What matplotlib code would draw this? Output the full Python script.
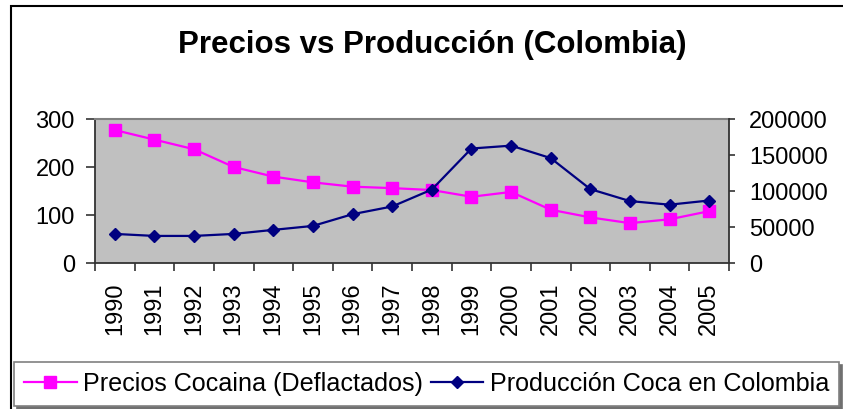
import numpy as np
import matplotlib
matplotlib.use("Agg")
import matplotlib.pyplot as plt
from matplotlib.patches import Rectangle

plt.rcParams['font.family'] = ['Liberation Sans', 'DejaVu Sans']

# datos
anios = ['1990', '1991', '1992', '1993', '1994', '1995', '1996', '1997',
         '1998', '1999', '2000', '2001', '2002', '2003', '2004', '2005']
precios = [277, 257, 237, 200, 180, 168, 159, 156,
           152, 138, 148, 111, 95, 83, 91, 108]
produccion = [40400, 37600, 37600, 40400, 46000, 51500, 67800, 78500,
              102000, 159000, 163000, 145700, 102600, 86000, 81000, 86800]

W, H = 843, 409
fig = plt.figure(figsize=(W / 100, H / 100), dpi=100)

# marco exterior del grafico (se corta a la derecha y abajo)
fig.patches.append(Rectangle((11 / W, -0.1), 1.2, 1 - 6 / H + 0.1,
                             transform=fig.transFigure, fill=False,
                             edgecolor='black', linewidth=1.5))

ax = fig.add_axes([95 / W, 1 - 263 / H, (729 - 95) / W, (263 - 119) / H])
ax.set_facecolor('#C0C0C0')
x = np.arange(len(anios))

ax.plot(x, precios, color='#FF00FF', linewidth=1.6, marker='s',
        markersize=8, markeredgecolor='#FF00FF',
        label='Precios Cocaina (Deflactados)')
ax.set_ylim(0, 300)
ax.set_yticks([0, 100, 200, 300])
ax.set_xlim(-0.5, len(anios) - 0.5)

# ticks en los limites de categoria, etiquetas en el centro
ax.set_xticks(np.arange(-0.5, len(anios), 1.0))
ax.set_xticklabels([])
ax.set_xticks(x, minor=True)
ax.set_xticklabels(anios, minor=True, rotation=90, fontsize=17)
ax.tick_params(axis='x', which='major', direction='out', length=6, width=1.2, color='#333333')
ax.tick_params(axis='x', which='minor', length=0, pad=14)
ax.tick_params(axis='y', direction='out', length=6.5, width=1.2, color='#333333',
               labelsize=17, pad=8)

ax.spines['top'].set_color('#808080')
ax.spines['top'].set_linewidth(1.5)
ax.spines['right'].set_visible(False)
ax.spines['left'].set_color('#333333')
ax.spines['left'].set_linewidth(1.3)
ax.spines['bottom'].set_color('#333333')
ax.spines['bottom'].set_linewidth(1.3)

ax2 = ax.twinx()
ax2.plot(x, produccion, color='#000080', linewidth=1.6, marker='D',
         markersize=6.5, markeredgecolor='#000080',
         label='Producción Coca en Colombia')
ax2.set_ylim(0, 200000)
ax2.set_yticks([0, 50000, 100000, 150000, 200000])
ax2.set_yticklabels(['0', '50000', '100000', '150000', '200000'])
ax2.tick_params(axis='y', direction='out', length=4.5, width=1.2, color='#333333',
                labelsize=17, pad=10)
for s in ['top', 'left', 'bottom']:
    ax2.spines[s].set_visible(False)
ax2.spines['right'].set_color('#333333')
ax2.spines['right'].set_linewidth(1.3)

fig.text(432 / W, 1 - 53 / H, 'Precios vs Producción (Colombia)',
         ha='center', va='baseline', fontsize=22.5, fontweight='bold')

h1, l1 = ax.get_legend_handles_labels()
h2, l2 = ax2.get_legend_handles_labels()
leg = fig.legend(h1 + h2, l1 + l2, loc='upper left',
                 bbox_to_anchor=(14 / W, 1 - 362 / H), ncol=2,
                 fontsize=18.1, frameon=True, fancybox=False,
                 handlelength=2.1, handletextpad=0.25, columnspacing=0.3,
                 borderpad=0.4, borderaxespad=0,
                 shadow={'color': '#707070', 'alpha': 1})
leg.get_frame().set_edgecolor('#808080')
leg.get_frame().set_linewidth(1.2)

fig.savefig('out.png', dpi=100)
